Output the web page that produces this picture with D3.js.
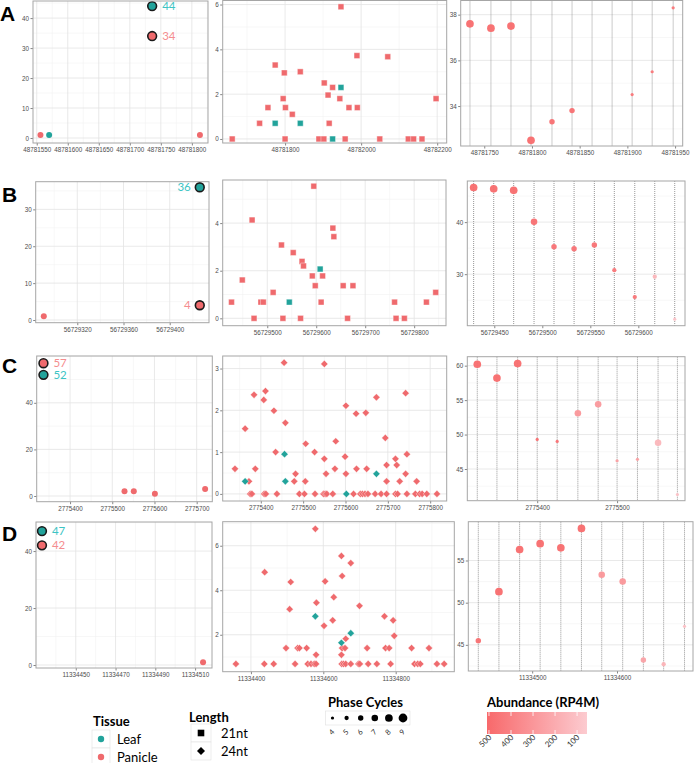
<!DOCTYPE html>
<html><head><meta charset="utf-8">
<script src="https://cdn.jsdelivr.net/npm/d3@7"></script>
<style>body{margin:0;background:#fff}svg{display:block}</style>
</head><body><svg id="c" width="696" height="763"></svg>
<script>
// ================= DATA =================
const tissueNames = ['Leaf', 'Panicle'];
const lengthNames = ['21nt', '24nt'];
const phaseCycles = [4, 5, 6, 7, 8, 9];
const abundanceTicks = [500, 400, 300, 200, 100];

// ---- Row A (21nt) ----
const aLeftPos = [48781556, 48781570, 48781736, 48781736, 48781813];
const aLeftVal = [1, 1, 44, 34, 1];
const aLeftTissue = ['P', 'L', 'L', 'P', 'P'];
const aLeftLabel = ['', '', '44', '34', ''];
const aLeftXTicks = [48781550, 48781600, 48781650, 48781700, 48781750, 48781800];
const aLeftYTicks = [0, 10, 20, 30, 40];

const aMidPanPos = [48781947, 48781774, 48781798, 48781840, 48781903, 48781925, 48781913, 48781944, 48781989, 48782070, 48781795, 48781755, 48781801, 48781819, 48781733, 48781916, 48781968, 48781990, 48782197, 48781661, 48781800, 48781889, 48781902, 48781958, 48782049, 48782124, 48782138, 48782160];
const aMidPanVal = [5.9, 3.3, 2.95, 3.0, 2.5, 2.3, 1.96, 1.8, 3.72, 3.67, 1.8, 1.4, 1.4, 1.1, 0.7, 0.7, 1.4, 1.4, 1.8, 0, 0, 0, 0, 0, 0, 0, 0, 0];
const aMidLeafPos = [48781947, 48781774, 48781840, 48781925];
const aMidLeafVal = [2.3, 0.7, 0.7, 0];
const aMidXTicks = [48781800, 48782000, 48782200];
const aMidYTicks = [0, 2, 4, 6];

const aPhaseLines = [48781735, 48781757, 48781778, 48781799, 48781821, 48781842, 48781863, 48781884, 48781905, 48781926, 48781948];
const aRightPos = [48781735, 48781757, 48781778, 48781799, 48781821, 48781842, 48781905, 48781926, 48781948];
const aRightVal = [37.6, 37.41, 37.5, 32.5, 33.31, 33.8, 34.5, 35.5, 38.3];
const aRightCycles = [8, 8, 8, 8, 6, 6, 4, 4, 4];
const aRightAbund = [500, 500, 500, 500, 480, 480, 450, 450, 450];
const aRightXTicks = [48781750, 48781800, 48781850, 48781900, 48781950];
const aRightYTicks = [34, 36, 38];

// ---- Row B (21nt) ----
const bLeftPos = [56729291, 56729426, 56729426];
const bLeftVal = [1, 36, 4];
const bLeftTissue = ['P', 'L', 'P'];
const bLeftLabel = ['', '36', '4'];
const bLeftXTicks = [56729320, 56729360, 56729400];
const bLeftYTicks = [0, 10, 20, 30];

const bMidPanPos = [56729595, 56729469, 56729634, 56729636, 56729529, 56729553, 56729571, 56729574, 56729592, 56729613, 56729449, 56729598, 56729655, 56729675, 56729512, 56729844, 56729427, 56729487, 56729492, 56729610, 56729760, 56729825, 56729473, 56729532, 56729568, 56729664, 56729763, 56729780];
const bMidPanVal = [5.55, 4.13, 3.79, 3.43, 3.08, 2.76, 2.39, 2.2, 1.78, 1.78, 1.61, 1.37, 1.37, 1.37, 1.09, 1.09, 0.68, 0.68, 0.68, 0.68, 0.68, 0.68, 0, 0, 0, 0, 0, 0];
const bMidLeafPos = [56729608, 56729545];
const bMidLeafVal = [2.07, 0.68];
const bMidXTicks = [56729500, 56729600, 56729700, 56729800];
const bMidYTicks = [0, 2, 4];

const bPhaseLines = [56729428.5, 56729449.4, 56729470.2, 56729491.4, 56729512.2, 56729533.1, 56729554.2, 56729575, 56729596.3, 56729617.1, 56729637.9];
const bRightPos = [56729428.5, 56729449.4, 56729470.2, 56729491.4, 56729512.2, 56729533.1, 56729554.2, 56729575, 56729596.3, 56729617.1, 56729637.9];
const bRightVal = [46.65, 46.4, 46.1, 40.05, 35.25, 34.87, 35.6, 30.77, 25.6, 29.5, 21.35];
const bRightCycles = [8, 8, 8, 7, 6, 6, 6, 5, 5, 5, 4];
const bRightAbund = [500, 500, 500, 480, 470, 470, 470, 450, 450, 150, 90];
const bRightXTicks = [56729450, 56729500, 56729550, 56729600];
const bRightYTicks = [30, 40];

// ---- Row C (24nt) ----
const cLeftPos = [2775529, 2775551, 2775601, 2775720, 2775337, 2775337];
const cLeftVal = [2, 2, 1, 3, 57, 52];
const cLeftTissue = ['P', 'P', 'P', 'P', 'P', 'L'];
const cLeftLabel = ['', '', '', '', '57', '52'];
const cLeftXTicks = [2775400, 2775500, 2775600, 2775700];
const cLeftYTicks = [0, 20, 40];

const cMidPanPos = [2775375, 2775379, 2775408, 2775412, 2775438, 2775491, 2775503, 2775528, 2775548, 2775552, 2775556, 2775570, 2775619, 2775635, 2775640, 2775646, 2775653, 2775670, 2775684, 2775697, 2775718, 2775723, 2775745, 2775765, 2775775, 2775781, 2775792, 2775816,
  2775372, 2775479, 2775505, 2775697, 2775728, 2775768,
  2775482, 2775554, 2775601, 2775742,
  2775339, 2775387, 2775575, 2775626, 2775650,
  2775697, 2775721, 2775550, 2775718, 2775599, 2775435, 2775527, 2775745, 2775506, 2775577, 2775694,
  2775363, 2775458, 2775431, 2775601, 2775625, 2775648, 2775407, 2775411, 2775384, 2775673, 2775742, 2775455, 2775550];
const cMidPanVal = [0, 0, 0, 0, 0, 0, 0, 0, 0, 0, 0, 0, 0, 0, 0, 0, 0, 0, 0, 0, 0, 0, 0, 0, 0, 0, 0, 0,
  0.3, 0.3, 0.3, 0.3, 0.3, 0.3,
  0.48, 0.48, 0.48, 0.48,
  0.6, 0.6, 0.6, 0.6, 0.6,
  0.69, 0.69, 0.84, 0.84, 0.89, 1.0, 1.0, 0.95, 1.2, 1.26, 1.34,
  1.56, 1.70, 1.99, 2.11, 1.92, 1.94, 2.25, 2.46, 2.37, 2.31, 2.41, 3.14, 3.11];
const cMidLeafPos = [2775602, 2775363, 2775458, 2775673, 2775456];
const cMidLeafVal = [0, 0.3, 0.3, 0.48, 0.95];
const cMidXTicks = [2775400, 2775500, 2775600, 2775700, 2775800];
const cMidYTicks = [0, 1, 2, 3];

const cPhaseLines = [2775325, 2775349.6, 2775375.5, 2775400, 2775425, 2775450.9, 2775476.3, 2775500, 2775525.5, 2775551.3, 2775575.5];
const cRightPos = [2775325, 2775349.6, 2775375.5, 2775400, 2775425, 2775450.9, 2775476.3, 2775500, 2775525.5, 2775551.3, 2775575.5];
const cRightVal = [60.2, 58.2, 60.3, 49.3, 49.0, 53.1, 54.4, 46.2, 46.4, 48.8, 41.3];
const cRightCycles = [8, 8, 8, 4, 4, 7, 7, 4, 4, 7, 4];
const cRightAbund = [500, 500, 500, 480, 470, 300, 290, 260, 260, 150, 100];
const cRightXTicks = [2775400, 2775500];
const cRightYTicks = [45, 50, 55, 60];

// ---- Row D (24nt) ----
const dLeftPos = [11334514, 11334433, 11334433];
const dLeftVal = [1, 47, 42];
const dLeftTissue = ['P', 'L', 'P'];
const dLeftLabel = ['', '47', '42'];
const dLeftXTicks = [11334450, 11334470, 11334490, 11334510];
const dLeftYTicks = [0, 20, 40];

const dMidPanPos = [11334358.5, 11334437, 11334463, 11334522, 11334557, 11334566, 11334575, 11334580, 11334651, 11334656, 11334662, 11334676, 11334697, 11334701, 11334724, 11334748, 11334786, 11334852, 11334861, 11334868, 11334914, 11334934,
  11334580, 11334650,
  11334497, 11334529, 11334534, 11334554, 11334652, 11334660, 11334721, 11334772, 11334782, 11334844, 11334892,
  11334662, 11334796, 11334602, 11334626, 11334793, 11334769, 11334507, 11334700, 11334581, 11334629, 11334510, 11334605, 11334652, 11334438, 11334650, 11334676, 11334578];
const dMidPanVal = [0.69, 0.69, 0.69, 0.69, 0.69, 0.69, 0.69, 0.69, 0.69, 0.69, 0.69, 0.69, 0.69, 0.69, 0.69, 0.69, 0.69, 0.69, 0.69, 0.69, 0.69, 0.69,
  1.1, 1.1,
  1.4, 1.4, 1.4, 1.4, 1.4, 1.4, 1.4, 1.4, 1.4, 1.4, 1.4,
  1.82, 1.95, 2.4, 2.65, 2.65, 2.83, 3.15, 3.3, 3.44, 3.69, 4.37, 4.40, 4.64, 4.81, 5.54, 5.22, 6.76];
const dMidLeafPos = [11334650, 11334676, 11334578];
const dMidLeafVal = [1.64, 2.07, 2.83];
const dMidXTicks = [11334400, 11334600, 11334800];
const dMidYTicks = [2, 4, 6];

const dPhaseLines = [11334436.5, 11334460.8, 11334485.2, 11334509.4, 11334533.8, 11334558.1, 11334582, 11334606.7, 11334631.1, 11334655, 11334679.6];
const dRightPos = [11334436.5, 11334460.8, 11334485.2, 11334509.4, 11334533.8, 11334558.1, 11334582, 11334606.7, 11334631.1, 11334655, 11334679.6];
const dRightVal = [45.5, 51.3, 56.3, 57.0, 56.5, 58.8, 53.3, 52.5, 43.2, 42.7, 47.2];
const dRightCycles = [6, 8, 8, 8, 8, 8, 7, 7, 6, 5, 4];
const dRightAbund = [480, 500, 500, 500, 500, 500, 300, 300, 250, 170, 110];
const dRightXTicks = [11334500, 11334600];
const dRightYTicks = [45, 50, 55];

// ================= STYLE / SCALES =================
const COL = {L: '#22A39B', P: '#EF6A6D'};
const LABCOL = {L: '#3CC4C4', P: '#F58D8F'};
const TICKFONT = 'Liberation Sans, Arial, sans-serif';
const LEGFONT = 'Lato, "Open Sans", sans-serif';
const sizeScale = d3.scaleLinear().domain([4, 9]).range([1.6, 4.4]);
const abundScale = d3.scaleLinear().domain([55, 509]).range(['#FCCBD0', '#F8696B']);

const svg = d3.select('#c');

function minorVals(ticks, domain) {
  if (ticks.length < 2) return [];
  const step = ticks[1] - ticks[0];
  const lo = Math.min(domain[0], domain[1]), hi = Math.max(domain[0], domain[1]);
  const out = [];
  for (let v = ticks[0] - step / 2 * Math.ceil((ticks[0] - lo) / (step / 2) + 1); v <= hi; v += step / 2) {
    if (v >= lo && !ticks.some(t => Math.abs(t - v) < 1e-9)) out.push(v);
  }
  return out;
}

function makePanel(rect, xd, yd, xt, yt, opts = {}) {
  const [x0, y0, x1, y1] = rect;
  const x = d3.scaleLinear().domain(xd).range([x0, x1]);
  const y = d3.scaleLinear().domain(yd).range([y1, y0]);
  const g = svg.append('g');
  g.append('rect').attr('x', x0).attr('y', y0).attr('width', x1 - x0).attr('height', y1 - y0).attr('fill', '#fff');
  g.selectAll(null).data(minorVals(yt, yd)).join('line')
    .attr('x1', x0).attr('x2', x1).attr('y1', d => y(d)).attr('y2', d => y(d))
    .attr('stroke', '#F1F1F1').attr('stroke-width', 0.6);
  if (!opts.noXGrid) {
    g.selectAll(null).data(minorVals(xt, xd)).join('line')
      .attr('y1', y0).attr('y2', y1).attr('x1', d => x(d)).attr('x2', d => x(d))
      .attr('stroke', '#F1F1F1').attr('stroke-width', 0.6);
    g.selectAll(null).data(xt).join('line')
      .attr('y1', y0).attr('y2', y1).attr('x1', d => x(d)).attr('x2', d => x(d))
      .attr('stroke', '#E3E3E3').attr('stroke-width', 0.8);
  }
  g.selectAll(null).data(yt).join('line')
    .attr('x1', x0).attr('x2', x1).attr('y1', d => y(d)).attr('y2', d => y(d))
    .attr('stroke', '#E3E3E3').attr('stroke-width', 0.8);
  const ax = g.append('g').attr('transform', `translate(0,${y1})`)
    .call(d3.axisBottom(x).tickValues(xt).tickSize(2.5).tickPadding(2).tickFormat(d3.format('d')));
  const ay = g.append('g').attr('transform', `translate(${x0},0)`)
    .call(d3.axisLeft(y).tickValues(yt).tickSize(2.5).tickPadding(1.5).tickFormat(d3.format('d')));
  [ax, ay].forEach(a => {
    a.select('.domain').remove();
    a.selectAll('line').attr('stroke', '#333').attr('stroke-width', 0.6);
    a.selectAll('text').attr('fill', '#4D4D4D').attr('font-size', 6.3).attr('font-family', TICKFONT);
  });
  const data = g.append('g');
  return {x, y, g: data, rect, border: () => {
    g.append('rect').attr('x', x0).attr('y', y0).attr('width', x1 - x0).attr('height', y1 - y0)
      .attr('fill', 'none').attr('stroke', '#A6A6A6').attr('stroke-width', 1);
  }};
}

function drawLeft(p, pos, val, tis, lab, side) {
  const idx = pos.map((_, i) => i);
  const small = idx.filter(i => !lab[i]);
  const big = idx.filter(i => lab[i]);
  p.g.selectAll(null).data(small).join('circle')
    .attr('cx', i => p.x(pos[i])).attr('cy', i => p.y(val[i])).attr('r', 3)
    .attr('fill', i => COL[tis[i]]);
  p.g.selectAll(null).data(big).join('circle')
    .attr('cx', i => p.x(pos[i])).attr('cy', i => p.y(val[i])).attr('r', 4.4)
    .attr('fill', i => COL[tis[i]]).attr('stroke', '#1a1a1a').attr('stroke-width', 1.6);
  p.g.selectAll(null).data(big).join('text')
    .attr('x', i => p.x(pos[i]) + (side === 'right' ? 10 : -9))
    .attr('y', i => p.y(val[i]) + 4)
    .attr('text-anchor', side === 'right' ? 'start' : 'end')
    .attr('font-family', LEGFONT).attr('font-size', 11.5)
    .attr('fill', i => LABCOL[tis[i]]).text(i => lab[i]);
  p.border();
}

function drawMid(p, shape, panPos, panVal, leafPos, leafVal) {
  const sym = shape === 'square'
    ? 'M-2.9,-2.9H2.9V2.9H-2.9Z'
    : 'M0,-3.6L3.6,0L0,3.6L-3.6,0Z';
  const draw = (pos, val, col) => p.g.selectAll(null).data(pos.map((d, i) => i)).join('path')
    .attr('d', sym)
    .attr('transform', i => `translate(${p.x(pos[i])},${p.y(val[i])})`)
    .attr('fill', col).attr('stroke', 'rgba(255,255,255,0.55)').attr('stroke-width', 0.7);
  draw(panPos, panVal, COL.P);
  draw(leafPos, leafVal, COL.L);
  p.border();
}

function drawRight(p, lines, pos, val, cyc, ab) {
  const [x0, y0, x1, y1] = p.rect;
  p.g.selectAll(null).data(lines).join('line')
    .attr('x1', d => p.x(d)).attr('x2', d => p.x(d)).attr('y1', y0).attr('y2', y1)
    .attr('stroke', '#7c7c7c').attr('stroke-width', 0.8).attr('stroke-dasharray', '1,1');
  p.g.selectAll(null).data(pos.map((d, i) => i)).join('circle')
    .attr('cx', i => p.x(pos[i])).attr('cy', i => p.y(val[i]))
    .attr('r', i => sizeScale(cyc[i]))
    .attr('fill', i => abundScale(ab[i])).attr('fill-opacity', 0.95);
  p.border();
}

// ================= PANELS =================
drawLeft(makePanel([33, 1, 208, 143], [48781544, 48781826], [-1.67, 45.7], aLeftXTicks, aLeftYTicks),
  aLeftPos, aLeftVal, aLeftTissue, aLeftLabel, 'right');
drawMid(makePanel([222.7, 0.5, 446.7, 143], [48781636, 48782225], [-0.18, 6.18], aMidXTicks, aMidYTicks),
  'square', aMidPanPos, aMidPanVal, aMidLeafPos, aMidLeafVal);
drawRight(makePanel([460.7, 0.5, 682.7, 146], [48781725.3, 48781958], [32.25, 38.62], aRightXTicks, aRightYTicks, {noXGrid: true}),
  aPhaseLines, aRightPos, aRightVal, aRightCycles, aRightAbund);

drawLeft(makePanel([35.7, 181.7, 209, 322.7], [56729284, 56729434], [-0.73, 37.5], bLeftXTicks, bLeftYTicks),
  bLeftPos, bLeftVal, bLeftTissue, bLeftLabel, 'left');
drawMid(makePanel([222.7, 180, 446, 325.7], [56729409, 56729865], [-0.31, 5.81], bMidXTicks, bMidYTicks),
  'square', bMidPanPos, bMidPanVal, bMidLeafPos, bMidLeafVal);
drawRight(makePanel([467.3, 181, 685, 325.7], [56729421.9, 56729648.6], [20.1, 47.9], bRightXTicks, bRightYTicks, {noXGrid: true}),
  bPhaseLines, bRightPos, bRightVal, bRightCycles, bRightAbund);

drawLeft(makePanel([36.7, 356, 212.3, 501.7], [2775321, 2775737], [-2.45, 60.1], cLeftXTicks, cLeftYTicks),
  cLeftPos, cLeftVal, cLeftTissue, cLeftLabel, 'right');
drawMid(makePanel([222.7, 356, 446.7, 501], [2775310, 2775839], [-0.17, 3.3], cMidXTicks, cMidYTicks),
  'diamond', cMidPanPos, cMidPanVal, cMidLeafPos, cMidLeafVal);
drawRight(makePanel([467.3, 356.7, 685, 500.7], [2775312.5, 2775585], [40.4, 61.3], cRightXTicks, cRightYTicks, {noXGrid: true}),
  cPhaseLines, cRightPos, cRightVal, cRightCycles, cRightAbund);

drawLeft(makePanel([36, 522, 212, 668], [11334430, 11334518.5], [-1.05, 50.2], dLeftXTicks, dLeftYTicks),
  dLeftPos, dLeftVal, dLeftTissue, dLeftLabel, 'right');
drawMid(makePanel([222.7, 521.7, 454.3, 671.7], [11334322, 11334962], [0.34, 7.08], dMidXTicks, dMidYTicks),
  'diamond', dMidPanPos, dMidPanVal, dMidLeafPos, dMidLeafVal);
drawRight(makePanel([468.3, 521.7, 693, 671], [11334424.7, 11334689.6], [41.9, 59.6], dRightXTicks, dRightYTicks, {noXGrid: true}),
  dPhaseLines, dRightPos, dRightVal, dRightCycles, dRightAbund);

const letters = [['A', 0, 21], ['B', 2, 202], ['C', 2, 373], ['D', 2, 541]];
svg.selectAll(null).data(letters).join('text')
  .attr('x', d => d[1]).attr('y', d => d[2]).text(d => d[0])
  .attr('font-family', 'Liberation Sans, Arial, sans-serif').attr('font-weight', 'bold').attr('font-size', 21);

// ================= LEGENDS =================
const leg = svg.append('g').attr('font-family', LEGFONT);
leg.append('text').attr('x', 93).attr('y', 726).attr('font-weight', 'bold').attr('font-size', 13).text('Tissue');
tissueNames.forEach((t, i) => {
  const cy = 739 + i * 18;
  leg.append('rect').attr('x', 92).attr('y', cy - 9).attr('width', 18).attr('height', 18)
    .attr('fill', '#fff').attr('stroke', '#E0E0E0').attr('stroke-width', 0.6);
  leg.append('circle').attr('cx', 101).attr('cy', cy).attr('r', 3.2).attr('fill', COL[t[0]]);
  leg.append('text').attr('x', 117).attr('y', cy + 4.5).attr('font-size', 13).text(t);
});
leg.append('text').attr('x', 189).attr('y', 722).attr('font-weight', 'bold').attr('font-size', 13).text('Length');
lengthNames.forEach((t, i) => {
  const cy = 733 + i * 18;
  leg.append('rect').attr('x', 191).attr('y', cy - 9).attr('width', 20).attr('height', 18)
    .attr('fill', '#fff').attr('stroke', '#E0E0E0').attr('stroke-width', 0.6);
  leg.append('path').attr('transform', `translate(201,${cy})`)
    .attr('d', i === 0 ? 'M-3.3,-3.3H3.3V3.3H-3.3Z' : 'M0,-4L4,0L0,4L-4,0Z').attr('fill', '#000');
  leg.append('text').attr('x', 221).attr('y', cy + 4.5).attr('font-size', 13).text(t);
});
leg.append('text').attr('x', 328).attr('y', 707).attr('font-weight', 'bold').attr('font-size', 13).text('Phase Cycles');
const pcX = d3.scalePoint().domain(phaseCycles).range([332.5, 403]);
leg.append('rect').attr('x', 325.5).attr('y', 711).attr('width', 84.5).attr('height', 14)
  .attr('fill', '#fff').attr('stroke', '#E0E0E0').attr('stroke-width', 0.6);
leg.selectAll(null).data(phaseCycles).join('circle')
  .attr('cx', d => pcX(d)).attr('cy', 718).attr('r', d => sizeScale(d)).attr('fill', '#000');
leg.selectAll(null).data(phaseCycles).join('text')
  .attr('transform', d => `translate(${pcX(d) + 1},${734}) rotate(-45)`)
  .attr('text-anchor', 'middle').attr('font-size', 7.5).attr('fill', '#333').text(d => d);
leg.append('text').attr('x', 487).attr('y', 707).attr('font-weight', 'bold').attr('font-size', 13).text('Abundance (RP4M)');
const grad = svg.append('defs').append('linearGradient').attr('id', 'abg').attr('x1', '0%').attr('x2', '100%');
grad.append('stop').attr('offset', '0%').attr('stop-color', abundScale(509));
grad.append('stop').attr('offset', '100%').attr('stop-color', abundScale(55));
const abX = d3.scaleLinear().domain([509, 55]).range([487, 587]);
leg.append('rect').attr('x', 487).attr('y', 712).attr('width', 100).attr('height', 22).attr('fill', 'url(#abg)');
abundanceTicks.forEach(v => {
  leg.append('line').attr('x1', abX(v)).attr('x2', abX(v)).attr('y1', 712).attr('y2', 716).attr('stroke', '#fff').attr('stroke-width', 0.8);
  leg.append('line').attr('x1', abX(v)).attr('x2', abX(v)).attr('y1', 730).attr('y2', 734).attr('stroke', '#fff').attr('stroke-width', 0.8);
});
leg.selectAll(null).data(abundanceTicks).join('text')
  .attr('transform', d => `translate(${abX(d) + 3},${738}) rotate(-45)`)
  .attr('text-anchor', 'end').attr('font-size', 8).attr('fill', '#333').text(d => d);
</script></body></html>
